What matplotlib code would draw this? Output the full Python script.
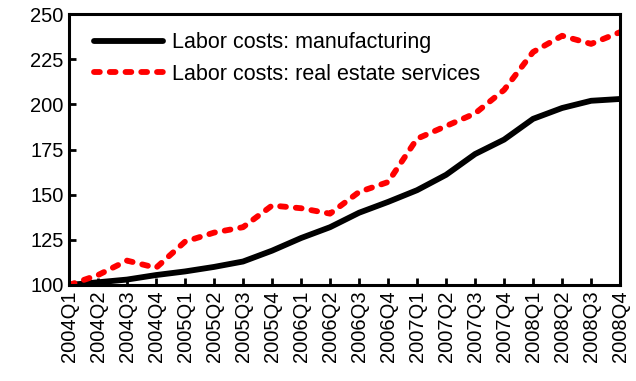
import matplotlib.pyplot as plt

plt.rcParams['font.family'] = ['Liberation Sans', 'DejaVu Sans']

quarters = ['2004Q1', '2004Q2', '2004Q3', '2004Q4',
            '2005Q1', '2005Q2', '2005Q3', '2005Q4',
            '2006Q1', '2006Q2', '2006Q3', '2006Q4',
            '2007Q1', '2007Q2', '2007Q3', '2007Q4',
            '2008Q1', '2008Q2', '2008Q3', '2008Q4']
manufacturing = [100, 101.5, 103, 105.5, 107.5, 110, 113, 119,
                 126, 132, 140, 146, 152.5, 161, 172.5, 180.5,
                 192, 198, 202, 203]
real_estate = [100, 105.5, 113.5, 109.5, 124, 129, 132, 144,
               142.5, 139.5, 151.5, 157, 181, 188, 195, 208,
               229, 238, 233.5, 240]

fig = plt.figure(figsize=(6.36, 3.81), dpi=100)
ax = fig.add_axes([0.1085, 0.252, 0.8665, 0.711])

x = range(len(quarters))
ax.plot(x, manufacturing, color='black', lw=4.2, solid_capstyle='round',
        label='Labor costs: manufacturing')
ax.plot(x, real_estate, color='red', lw=4.2, dashes=(1.0, 1.7),
        dash_capstyle='round', label='Labor costs: real estate services')

ax.set_xlim(0, len(quarters) - 1)
ax.set_ylim(100, 250)
ax.set_yticks(range(100, 251, 25))
ax.set_xticks(list(x))
ax.set_xticklabels(quarters, rotation=90)
ax.tick_params(direction='in', length=5, width=2, labelsize=14.5, pad=4)

for s in ax.spines.values():
    s.set_linewidth(2.2)

ax.legend(loc='upper left', frameon=False, fontsize=15.5, handlelength=3.2,
          handletextpad=0.4, labelspacing=0.5, borderaxespad=0.0,
          bbox_to_anchor=(0.03, 0.965))

fig.savefig('out.png', dpi=100)
